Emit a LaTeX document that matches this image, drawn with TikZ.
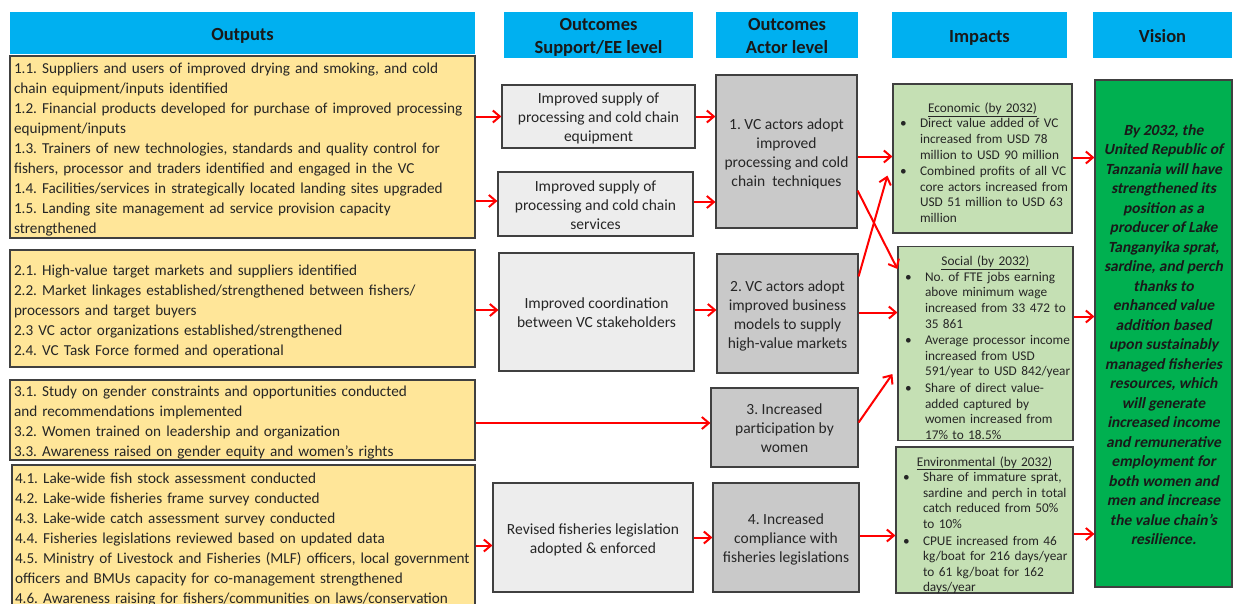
\documentclass[tikz,border=0pt]{standalone}
\usepackage{fontspec}
\setmainfont{Carlito}
\newfontfamily\visfont{Carlito}[FakeSlant=0.2]
\usetikzlibrary{arrows.meta,calc}
\setlength{\parindent}{0pt}
\setlength{\lineskip}{0pt}
\frenchspacing
\definecolor{hdrblue}{HTML}{00B0F0}
\definecolor{outyel}{HTML}{FFE699}
\definecolor{supgray}{HTML}{EDEDED}
\definecolor{actgray}{HTML}{C9C9C9}
\definecolor{impgreen}{HTML}{C5E0B4}
\definecolor{visgreen}{HTML}{00B050}
\definecolor{edgegray}{HTML}{404040}
\definecolor{txtgray}{HTML}{262626}
\definecolor{arrred}{HTML}{FF0000}
\newcommand\lft[1]{\raisebox{-2.5pt}[\height][\depth]{\begin{tabular}{@{}l@{}}#1\end{tabular}}}
\newcommand\ctr[1]{\raisebox{-2.5pt}[\height][\depth]{\begin{tabular}{@{}c@{}}#1\end{tabular}}}
\newcommand\bul[1]{\par\noindent\hspace*{3pt}\makebox[20pt][l]{\textbullet}\begin{tabular}[t]{@{}l@{}}#1\end{tabular}\par}
\newcommand\imphead[1]{\par\vspace*{3.5pt}\centerline{\underline{#1}}}
\newcommand\impend{\par\vspace*{-3.5pt}}
\begin{document}
\begin{tikzpicture}[x=1pt,y=-1pt,
  box/.style={draw=edgegray,line width=1.2pt,inner sep=0pt,text=txtgray},
  hdr/.style={fill=hdrblue,inner sep=0pt,align=center,font=\fontsize{18.5}{23}\selectfont\bfseries,text=black!90},
  outbox/.style={box,fill=outyel,align=left,inner xsep=4pt,text width=457pt,font=\fontsize{15.2}{20}\selectfont},
  supbox/.style={box,fill=supgray,align=center,font=\fontsize{15.5}{19}\selectfont},
  actbox/.style={box,fill=actgray,align=center,font=\fontsize{15.5}{19}\selectfont},
  impbox/.style={box,fill=impgreen,align=left,inner xsep=4pt,font=\fontsize{13.3}{15.6}\selectfont},
  visbox/.style={box,fill=visgreen,align=center,text=black!90,font=\fontsize{15.5}{19.5}\selectfont\visfont\bfseries},
  arr/.style={draw=arrred,line width=2pt,-{Straight Barb[length=7pt,width=12pt]}}
]
\useasboundingbox[fill=white] (0,0) rectangle (1238,603);

% headers
\node[hdr,minimum width=465pt,minimum height=42pt] (hOut) at (242.5,33) {\ctr{Outputs}};
\node[hdr,minimum width=189pt,minimum height=46pt] (hSup) at (598.5,35) {\ctr{Outcomes\\Support/EE level}};
\node[hdr,minimum width=142pt,minimum height=46pt] (hAct) at (787,35) {\ctr{Outcomes\\Actor level}};
\node[hdr,minimum width=175pt,minimum height=46pt] (hImp) at (979.5,35) {\ctr{Impacts}};
\node[hdr,minimum width=139pt,minimum height=46pt] (hVis) at (1162.5,35) {\ctr{Vision}};

% outputs
\node[outbox,minimum height=182pt] (o1) at (242.5,147) {\lft{1.1. Suppliers and users of improved drying and smoking, and cold\\chain equipment/inputs identified\\1.2. Financial products developed for purchase of improved processing\\equipment/inputs\\1.3. Trainers of new technologies, standards and quality control for\\fishers, processor and traders identified and engaged in the VC\\1.4. Facilities/services in strategically located landing sites upgraded\\1.5. Landing site management ad service provision capacity\\strengthened}};
\node[outbox,minimum height=117pt] (o2) at (242.5,308.5) {\lft{2.1. High-value target markets and suppliers identified\\2.2. Market linkages established/strengthened between fishers/\\processors and target buyers\\2.3 VC actor organizations established/strengthened\\2.4. VC Task Force formed and operational}};
\node[outbox,minimum height=80pt] (o3) at (242.5,420) {\lft{3.1. Study on gender constraints and opportunities conducted\\and recommendations implemented\\3.2. Women trained on leadership and organization\\3.3. Awareness raised on gender equity and women’s rights}};
\node[outbox,minimum height=144pt,inner xsep=3pt] (o4) at (243.5,537) {\lft{4.1. Lake-wide fish stock assessment conducted\\4.2. Lake-wide fisheries frame survey conducted\\4.3. Lake-wide catch assessment survey conducted\\4.4. Fisheries legislations reviewed based on updated data\\4.5. Ministry of Livestock and Fisheries (MLF) officers, local government\\officers and BMUs capacity for co-management strengthened\\4.6. Awareness raising for fishers/communities on laws/conservation}};

% support level outcomes
\node[supbox,minimum width=193pt,minimum height=63pt] (s1) at (598.5,116.5) {\ctr{Improved supply of\\processing and cold chain\\equipment}};
\node[supbox,minimum width=195pt,minimum height=64pt] (s2) at (595.5,204) {\ctr{Improved supply of\\processing and cold chain\\services}};
\node[supbox,minimum width=195pt,minimum height=118pt] (s3) at (596.5,312) {\ctr{Improved coordination\\between VC stakeholders}};
\node[supbox,minimum width=200pt,minimum height=109pt] (s4) at (593,537.5) {\ctr{Revised fisheries legislation\\adopted \& enforced}};

% actor level outcomes
\node[actbox,minimum width=141pt,minimum height=153pt] (a1) at (786.5,151.5) {\ctr{1. VC actors adopt\\improved\\processing and cold\\chain\ \ techniques}};
\node[actbox,minimum width=141pt,minimum height=119pt] (a2) at (787.5,313.5) {\ctr{2. VC actors adopt\\improved business\\models to supply\\high-value markets}};
\node[actbox,minimum width=147pt,minimum height=79pt] (a3) at (784.5,427.5) {\ctr{3. Increased\\participation by\\women}};
\node[actbox,minimum width=146pt,minimum height=109pt] (a4) at (786,537.5) {\ctr{4. Increased\\compliance with\\fisheries legislations}};

% impacts
\node[impbox,minimum height=149pt,text width=171pt] (i1) at (982.5,158.5) {\imphead{Economic (by 2032)}\bul{Direct value added of VC\\increased from USD 78\\million to USD 90 million}\bul{Combined profits of all VC\\core actors increased from\\USD 51 million to USD 63\\million}\impend};
\node[impbox,minimum height=187pt,text width=167pt] (i2) at (985.5,343.5) {\imphead{Social (by 2032)}\bul{No. of FTE jobs earning\\above minimum wage\\increased from 33 472 to\\35 861}\bul{Average processor income\\increased from USD\\591/year to USD 842/year}\bul{Share of direct value-\\added captured by\\women increased from\\17\% to 18.5\%}\impend};
\node[impbox,minimum height=144pt,text width=169pt] (i3) at (984.5,520) {\imphead{Environmental (by 2032)}\bul{Share of immature sprat,\\sardine and perch in total\\catch reduced from 50\%\\to 10\%}\bul{CPUE increased from 46\\kg/boat for 216 days/year\\to 61 kg/boat for 162\\days/year}\impend};

% vision
\node[visbox,minimum width=137pt,minimum height=507pt] (vis) at (1163.5,333.5) {\ctr{By 2032, the\\United Republic of\\Tanzania will have\\strengthened its\\position as a\\producer of Lake\\Tanganyika sprat,\\sardine, and perch\\thanks to\\enhanced value\\addition based\\upon sustainably\\managed fisheries\\resources, which\\will generate\\increased income\\and remunerative\\employment for\\both women and\\men and increase\\the value chain’s\\resilience.}};

% connectors
\draw[arr] (o1.east |- s1.west) -- (s1.west);
\draw[arr] ($(o1.east |- s2.west)+(0,-3)$) -- ($(s2.west)+(0,-3)$);
\draw[arr] (s1.east) -- (s1.east -| a1.west);
\draw[arr] ($(s2.east)+(0,-2)$) -- ($(s2.east -| a1.west)+(0,-2)$);
\draw[arr] ($(o2.east |- s3.west)+(0,-2)$) -- ($(s3.west)+(0,-2)$);
\draw[arr] ($(s3.east)+(0,-2)$) -- ($(s3.east -| a2.west)+(0,-2)$);
\draw[arr] ($(o3.east)+(0,3)$) -- ($(o3.east -| a3.west)+(0,3)$);
\draw[arr] ($(o4.east |- s4.west)+(0,8)$) -- ($(s4.west)+(0,8)$);
\draw[arr] (s4.east) -- (s4.east -| a4.west);
\draw[arr] ($(a1.east |- i1.west)+(0,-2)$) -- ($(i1.west)+(0,-2)$);
\draw[arr] ($(a1.south east)+(0,-38)$) -- ($(i2.north west)+(0,23)$);
\draw[arr] ($(a2.north east)+(0,23)$) -- ($(i1.south west)+(-5,-58)$);
\draw[arr] ($(a2.east)+(0,-1)$) -- ($(a2.east -| i2.west)+(0,-1)$);
\draw[arr] ($(a3.east)+(0,-5)$) -- ($(i2.south west)+(-5,-67)$);
\draw[arr] ($(a4.east)+(0,-2)$) -- ($(a4.east -| i3.west)+(0,-2)$);
\draw[arr] ($(i1.east)+(0,-1)$) -- ($(i1.east -| vis.west)+(0,-1)$);
\draw[arr] ($(i2.east)+(0,-27)$) -- ($(i2.east -| vis.west)+(0,-27)$);
\draw[arr] ($(i3.east)+(0,14)$) -- ($(i3.east -| vis.west)+(0,14)$);
\end{tikzpicture}
\end{document}
